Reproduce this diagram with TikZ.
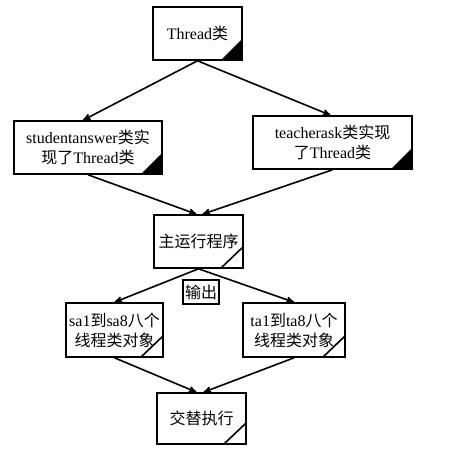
\documentclass[tikz,border=0pt]{standalone}
\usepackage{fontspec}
\setmainfont{Liberation Serif}
\newfontfamily\zhfont{Noto Sans CJK SC}
\newcommand{\zh}[1]{{\zhfont #1}}
\usetikzlibrary{arrows, positioning}

\begin{document}
\begin{tikzpicture}[%
	x=1pt, y=-1pt,              % pixel-like units, y going down
	every node/.style={font=\fontsize{16}{20}\selectfont},
	>=stealth',
	line width=1.6pt,
	]
	% -------------------------------------------------
	% Box styles
	\tikzset{
		base/.style={draw, rectangle, align=center, inner sep=2pt},
		% dark: black folded corner
		dark/.style={base, minimum height=53pt, path picture={
			\fill[black] (path picture bounding box.south east) -- ++(-21pt,0pt) -- ++(21pt,21pt) -- cycle;}},
		% cut: slanted stroke in the corner
		cut/.style={base, minimum height=53pt, path picture={
			\draw[line width=1.6pt] (path picture bounding box.south east) ++(-22pt,0pt) -- ++(22pt,21pt);}},
		lbl/.style={base, inner sep=1pt, minimum width=36pt, minimum height=24pt},
		norm/.style={->, draw},
	}
	\useasboundingbox (0,0) rectangle (457,452);

	\node[dark, minimum width=89pt]		(thread)	at (197.5,33.5)	{Thread\zh{类}};
	\node[dark, minimum width=148pt]	(stu)		at (88,147.5)	{studentanswer\zh{类实}\\\zh{现了}Thread\zh{类}};
	\node[dark, minimum width=159pt]	(tea)		at (332.5,142.5)	{teacherask\zh{类实现}\\\zh{了}Thread\zh{类}};

	\node[cut, minimum width=89pt]		(main)		at (198.5,241.5)	{\zh{主运行程序}};
	\node[lbl]							(out)		at (201,292)	{\zh{输出}};

	\node[cut, minimum width=97pt, minimum height=54pt]	(sa)	at (114.5,330)	{sa1\zh{到}sa8\zh{八个}\\\zh{线程类对象}};
	\node[cut, minimum width=102pt, minimum height=54pt]	(ta)	at (294,330)	{ta1\zh{到}ta8\zh{八个}\\\zh{线程类对象}};

	\node[cut, minimum width=89pt, minimum height=51pt]	(alt)	at (201.5,418.5)	{\zh{交替执行}};

	\draw[norm] (thread.south) -- ([xshift=-5pt]stu.north);
	\draw[norm] (thread.south) -- ([xshift=-2pt]tea.north);

	\draw[norm] (stu.south) -- ([xshift=-2pt]main.north);
	\draw[norm] (tea.south) -- ([xshift=4pt]main.north);

	\draw[norm] (main.south) -- (sa.north);
	\draw[norm] (main.south) -- (ta.north);

	\draw[norm] (sa.south) -- ([xshift=-5pt]alt.north);
	\draw[norm] (ta.south) -- ([xshift=2pt]alt.north);

\end{tikzpicture}
\end{document}
